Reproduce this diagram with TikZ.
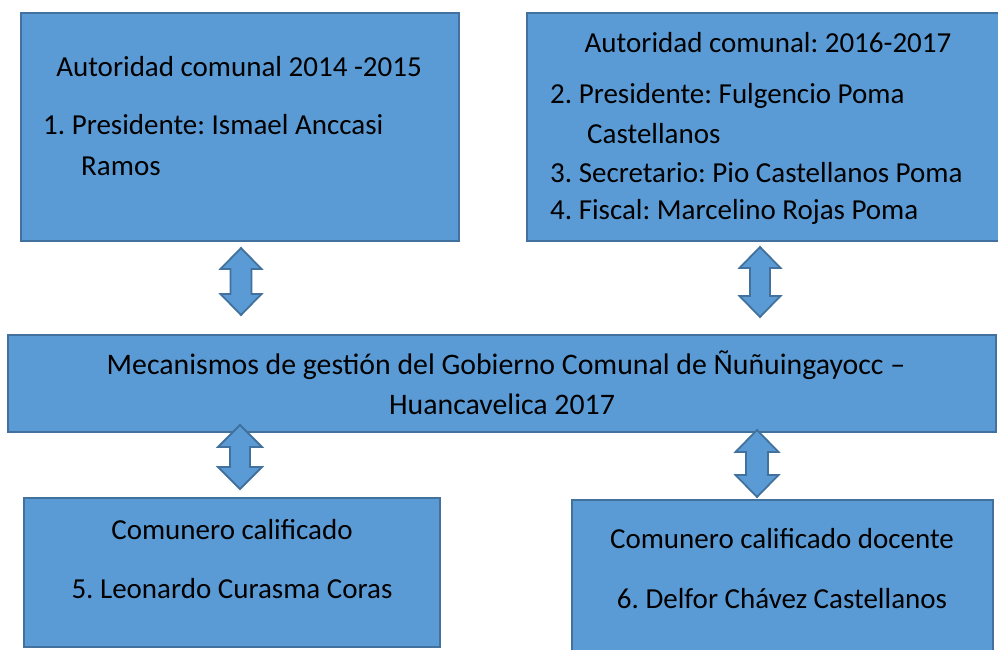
\documentclass[tikz,border=0pt]{standalone}
\usepackage{fontspec}
\setmainfont{Carlito}
\frenchspacing
\definecolor{boxfill}{RGB}{91,155,213}
\definecolor{boxline}{RGB}{65,113,156}
\tikzset{
  blk/.style={draw=boxline, fill=boxfill, line width=2pt, inner sep=0pt},
  txt/.style={inner sep=0pt, font=\fontsize{29}{35}\selectfont, text=black},
  midtxt/.style={txt, font=\fontsize{29.8}{35}\selectfont},
  udarrow/.style={draw=boxline, fill=boxfill, line width=1.8pt, line join=miter}
}
\newcommand{\udarr}[6]{% cx, top, bottom, half head, half shaft, head length
  \draw[udarrow] (#1,#2) -- ({#1+#4},{#2+#6}) -- ({#1+#5},{#2+#6}) -- ({#1+#5},{#3-#6})
    -- ({#1+#4},{#3-#6}) -- (#1,#3) -- ({#1-#4},{#3-#6}) -- ({#1-#5},{#3-#6})
    -- ({#1-#5},{#2+#6}) -- ({#1-#4},{#2+#6}) -- cycle;}
\begin{document}
\begin{tikzpicture}[x=1pt,y=-1pt]
\useasboundingbox (0,0) rectangle (998,650);
% boxes
\path[blk] (21,13) rectangle (459,241);
\node[inner sep=0pt] (b1) at (240,127) {};
\path[blk] (527,13) rectangle (1004,241);
\node[inner sep=0pt] (b2) at (765,127) {};
\path[blk] (8,335) rectangle (996,432);
\node[inner sep=0pt] (mid) at (502,383) {};
\path[blk] (24,498) rectangle (440,647);
\node[inner sep=0pt] (b3) at (232,572) {};
\path[blk] (572,500) rectangle (993,660);
\node[inner sep=0pt] (b4) at (782,580) {};
% texts box 1
\node[txt, anchor=base] (t11) at (239,77) {Autoridad comunal 2014 -2015};
\node[txt, anchor=base west] (t12) at (43,135) {1. Presidente: Ismael Anccasi};
\node[txt, anchor=base west] (t13) at (81,175) {Ramos};
% texts box 2
\node[txt, anchor=base] (t21) at (768,53) {Autoridad comunal: 2016-2017};
\node[txt, anchor=base west] (t22) at (550,104) {2. Presidente: Fulgencio Poma};
\node[txt, anchor=base west] (t23) at (587,143) {Castellanos};
\node[txt, anchor=base west] (t24) at (550,182) {3. Secretario: Pio Castellanos Poma};
\node[txt, anchor=base west] (t25) at (550,219) {4. Fiscal: Marcelino Rojas Poma};
% middle
\node[midtxt, anchor=base] (m1) at (506,374) {Mecanismos de gestión del Gobierno Comunal de Ñuñuingayocc –};
\node[midtxt, anchor=base] (m2) at (502,414) {Huancavelica 2017};
% bottom left
\node[txt, anchor=base] (t31) at (232,539) {Comunero calificado};
\node[txt, anchor=base] (t32) at (232,598) {5. Leonardo Curasma Coras};
% bottom right
\node[txt, anchor=base] (t41) at (782,548) {Comunero calificado docente};
\node[txt, anchor=base] (t42) at (782,608) {6. Delfor Chávez Castellanos};
% double arrows
\udarr{241}{248}{315}{20.5}{10.5}{21}
\udarr{760}{247}{317}{20.5}{10}{21}
\udarr{240}{425}{489}{22}{10}{22}
\udarr{757}{430}{497}{21.5}{11}{22}
\end{tikzpicture}
\end{document}
